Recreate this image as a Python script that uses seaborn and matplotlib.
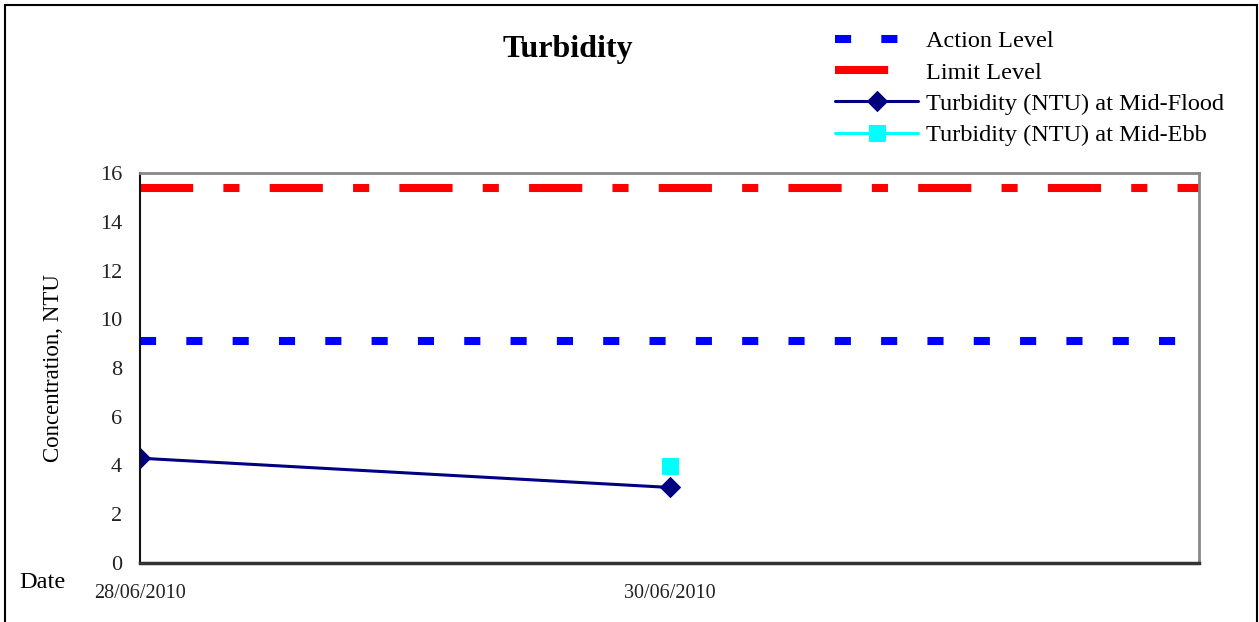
import numpy as np
import pandas as pd
import seaborn as sns
import matplotlib.pyplot as plt
from matplotlib.patches import Rectangle

# data
flood_dates = ['2010-06-28', '2010-06-30']
flood_ntu = [4.3, 3.1]
ebb_dates = ['2010-06-30']
ebb_ntu = [4.0]
action_level = 9.1
limit_level = 15.4
x_range = ['2010-06-28', '2010-07-02']
tick_dates = ['2010-06-28', '2010-06-30']
tick_labels = ['28/06/2010', '30/06/2010']

sns.set_style('white')
plt.rcParams['font.family'] = ['Liberation Serif', 'DejaVu Serif']
plt.rcParams['text.color'] = 'black'
plt.rcParams['axes.labelcolor'] = 'black'

fig = plt.figure(figsize=(12.59, 6.22), dpi=100)
ax = fig.add_axes([140/1259, 1-563/622, 1059/1259, 390/622])

df_flood = pd.DataFrame({'date': pd.to_datetime(flood_dates), 'ntu': flood_ntu})
df_ebb = pd.DataFrame({'date': pd.to_datetime(ebb_dates), 'ntu': ebb_ntu})

ax.axhline(action_level, color='#0000FF', lw=5.8, dashes=(2, 3.75),
           label='Action Level')
ax.axhline(limit_level, color='#FF0000', lw=5.8, dashes=(6.6, 3.75, 2, 3.75),
           label='Limit Level')
sns.lineplot(data=df_flood, x='date', y='ntu', ax=ax, color='#000080', lw=2.2,
             marker='D', markersize=10, markeredgecolor='#000080',
             label='Turbidity (NTU) at Mid-Flood')
sns.lineplot(data=df_ebb, x='date', y='ntu', ax=ax, color='#00FFFF', lw=2.2,
             marker='s', markersize=11, markeredgecolor='#00FFFF',
             label='Turbidity (NTU) at Mid-Ebb')

ax.set_xlim(pd.to_datetime(x_range))
ax.set_xticks(pd.to_datetime(tick_dates))
ax.set_xticklabels(tick_labels)
ax.set_ylim(0, 16)
ax.set_yticks(range(0, 17, 2))
ax.set_xlabel('')
ax.set_ylabel('Concentration, NTU', fontsize=16.5)
ax.yaxis.set_label_coords(-0.072, 0.5)

ax.tick_params(axis='both', direction='in', length=6, width=1, color='#333333',
               labelcolor='#222222')
ax.tick_params(axis='y', pad=13, labelsize=16)
ax.tick_params(axis='x', pad=15, labelsize=14.5)

for s in ['top', 'right']:
    ax.spines[s].set_color('#888888')
    ax.spines[s].set_linewidth(2)
ax.spines['left'].set_color('#111111')
ax.spines['left'].set_linewidth(1.5)
ax.spines['bottom'].set_color('#333333')
ax.spines['bottom'].set_linewidth(2.5)

h, l = ax.get_legend_handles_labels()
ax.legend(h, l, loc='upper left', bbox_to_anchor=(835/1259, 1-30/622),
          bbox_transform=fig.transFigure, frameon=False, fontsize=17.5,
          handlelength=3.42, handletextpad=0.33, labelspacing=0.39,
          borderpad=0, borderaxespad=0, numpoints=1)

fig.text(568/1259, 1-49/622, 'Turbidity', ha='center', va='center',
         fontsize=23, weight='bold')
fig.text(42/1259, 1-582/622, 'Date', ha='center', va='center', fontsize=17.5)

fig.patches.append(Rectangle((5/1259, -0.05), 1252/1259, 1.05-5/622,
                             transform=fig.transFigure, fill=False,
                             ec='black', lw=1.5))

plt.savefig('out.png', dpi=100)
plt.close()
